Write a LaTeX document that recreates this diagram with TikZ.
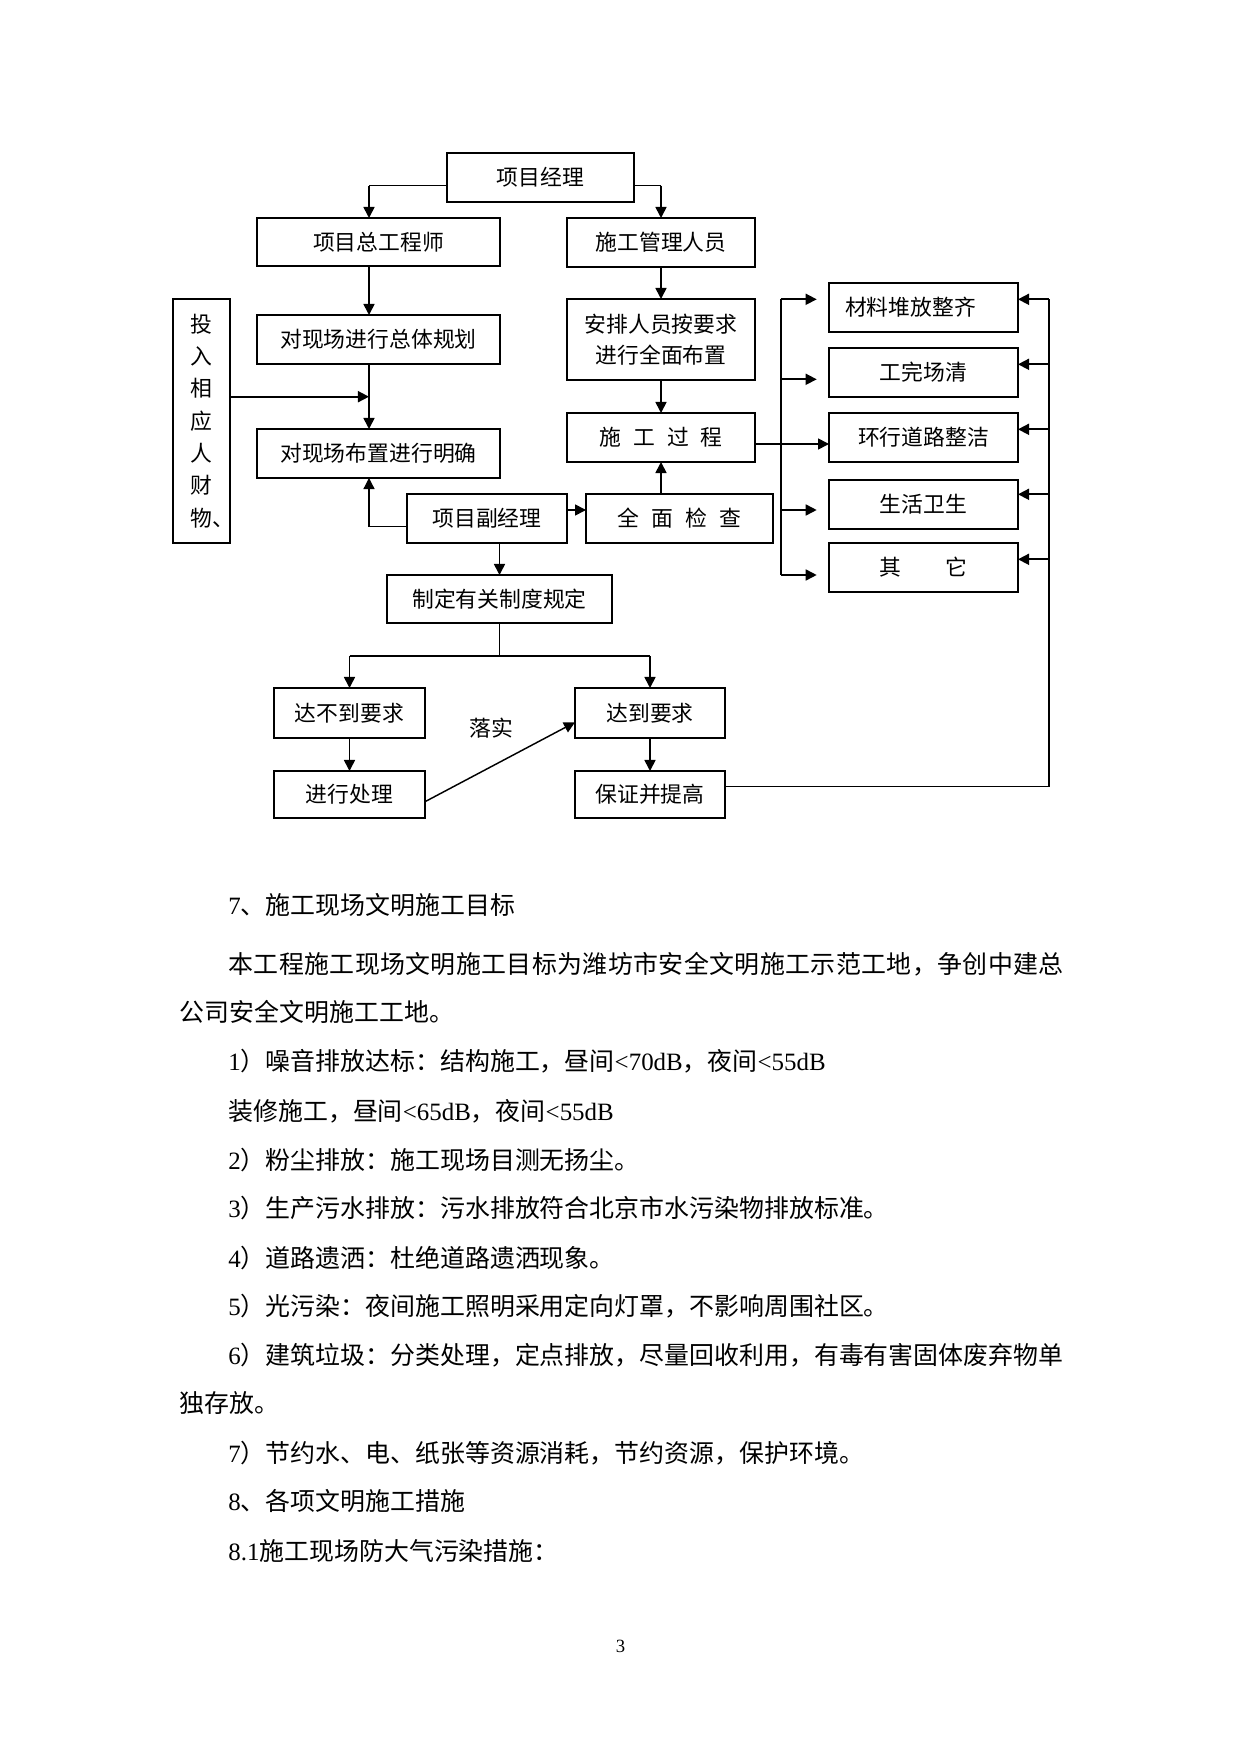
\documentclass[tikz,border=0pt]{standalone}
\usepackage{fontspec}
\setmainfont{Noto Sans CJK SC}
\newfontfamily\latinserif{Liberation Serif}
\newcommand\ltn[1]{{\latinserif #1}}
\usetikzlibrary{arrows.meta}
\newlength\px
\setlength\px{0.016922cm}
\begin{document}
\begin{tikzpicture}[x=0.016922cm,y=-0.016922cm,
  box/.style={draw,line width=0.9pt,inner sep=0pt,outer sep=0pt,align=center,
    font=\fontsize{10.5pt}{15pt}\selectfont},
  ar/.style={-{Triangle[length=5.3pt,width=5.3pt]},line width=0.8pt},
  thinl/.style={line width=0.5pt},
  body/.style={anchor=west,inner sep=0pt,font=\fontsize{12pt}{14pt}\selectfont}]
\useasboundingbox (0,0) rectangle (1241,1754);

% ---- boxes ----
\node[box,minimum width=187*\px,minimum height=49*\px] (pm) at (540.5,177.5) {项目经理};
\node[box,minimum width=243*\px,minimum height=48*\px] (ce) at (378.5,242) {项目总工程师};
\node[box,minimum width=188*\px,minimum height=49*\px] (cm) at (661,242.5) {施工管理人员};
\node[box,minimum width=243*\px,minimum height=49*\px] (plan) at (378.5,339.5) {对现场进行总体规划};
\node[box,line width=0.6pt,minimum width=188*\px,minimum height=81*\px,
  font=\fontsize{10.5pt}{15.1pt}\selectfont] (arr) at (661,339.5) {安排人员按要求\\进行全面布置};
\node[box,minimum width=57*\px,minimum height=244*\px,
  font=\fontsize{10.5pt}{15.55pt}\selectfont] (inp) at (201.5,421)
  {投\\入\\相\\应\\人\\财\\\makebox[1em][l]{物、}};
\node[box,minimum width=243*\px,minimum height=49*\px] (clar) at (378.5,453.5) {对现场布置进行明确};
\node[box,minimum width=188*\px,minimum height=49*\px] (proc) at (661,437.5)
  {施\hspace{0.55em}工\hspace{0.55em}过\hspace{0.55em}程};
\node[box,minimum width=160*\px,minimum height=49*\px] (dpm) at (487,518.5) {项目副经理};
\node[box,minimum width=187*\px,minimum height=49*\px] (chk) at (679.5,518.5)
  {全\hspace{0.55em}面\hspace{0.55em}检\hspace{0.55em}查};
\node[box,minimum width=225*\px,minimum height=48*\px] (rule) at (499.5,599) {制定有关制度规定};
\node[box,minimum width=151*\px,minimum height=50*\px] (fail) at (349.5,713) {达不到要求};
\node[box,minimum width=150*\px,minimum height=50*\px] (pass) at (650,713) {达到要求};
\node[box,minimum width=151*\px,minimum height=47*\px] (fix) at (349.5,794.5) {进行处理};
\node[box,minimum width=150*\px,minimum height=47*\px] (imp) at (650,794.5) {保证并提高};

\node[box,minimum width=189*\px,minimum height=49*\px] (r1) at (923.5,307.5) {\hspace*{-26\px}材料堆放整齐};
\node[box,minimum width=189*\px,minimum height=49*\px] (r2) at (923.5,372.5) {工完场清};
\node[box,minimum width=189*\px,minimum height=49*\px] (r3) at (923.5,437.5) {环行道路整洁};
\node[box,minimum width=189*\px,minimum height=49*\px] (r4) at (923.5,504.5) {生活卫生};
\node[box,minimum width=189*\px,minimum height=49*\px] (r5) at (923.5,567.5) {其\hspace{2em}它};

\node[font=\fontsize{10.5pt}{12pt}\selectfont,inner sep=0pt] (lbl) at (491.7,728.3) {落实};

% ---- coordinates ----
\coordinate (L1) at (369,185.7);
\coordinate (L3) at (661,185.7);
\coordinate (J1) at (369,396.7);
\coordinate (J2) at (369,526.7);
\coordinate (J3) at (575,510);
\coordinate (S) at (499.5,656);
\coordinate (SL) at (349.5,656);
\coordinate (SR) at (650,656);
\coordinate (D1) at (425,801.7);
\coordinate (D2) at (575,722.3);
\coordinate (B1) at (780.7,299.3);
\coordinate (B2) at (780.7,379.3);
\coordinate (B3) at (780.7,444);
\coordinate (B4) at (780.7,510);
\coordinate (B5) at (780.7,575);
\coordinate (T1) at (816.7,299.3);
\coordinate (T2) at (816.7,379.3);
\coordinate (T4) at (816.7,510);
\coordinate (T5) at (816.7,575);
\coordinate (R1) at (1049.3,299.3);
\coordinate (R2) at (1049.3,364.3);
\coordinate (R3) at (1049.3,429.3);
\coordinate (R4) at (1049.3,494.3);
\coordinate (R5) at (1049.3,559.3);
\coordinate (Rb) at (1049.3,786.7);

% ---- connectors ----
\draw[thinl] (pm.west |- L1) -- (L1);
\draw[ar] (L1) -- (ce.north -| L1);
\draw[thinl] (pm.east |- L3) -- (L3);
\draw[ar] (L3) -- (cm.north -| L3);
\draw[ar] (ce.south -| L1) -- (plan.north -| L1);
\draw[ar] (plan.south -| L1) -- (clar.north -| L1);
\draw[ar] (inp.east |- J1) -- (J1);
\draw[ar,line width=0.6pt] (dpm.west |- J2) -- (J2) -- (clar.south -| J2);
\draw[ar] (cm.south) -- (arr.north);
\draw[ar] (arr.south) -- (proc.north);
\draw[ar] (proc.south |- chk.north) -- (proc.south);
\draw[ar] (dpm.east |- J3) -- (chk.west |- J3);
\draw[ar] (rule.north |- dpm.south) -- (rule.north);
\draw[line width=0.8pt] (rule.south) -- (S);
\draw[thinl] (SL) -- (SR);
\draw[ar] (SL) -- (fail.north);
\draw[ar] (SR) -- (pass.north);
\draw[ar] (fail.south) -- (fix.north);
\draw[ar] (pass.south) -- (imp.north);
\draw[ar,line width=0.7pt] (fix.east |- D1) -- (pass.west |- D2);

\draw[line width=0.9pt] (B1) -- (B5);
\draw[ar] (B1) -- (T1);
\draw[ar] (B2) -- (T2);
\draw[ar] (proc.east |- B3) -- (r3.west |- B3);
\draw[ar] (B4) -- (T4);
\draw[ar] (B5) -- (T5);

\draw[line width=0.9pt] (R1) -- (Rb);
\draw[thinl] (imp.east |- Rb) -- (Rb);
\draw[ar] (R1) -- (r1.east |- R1);
\draw[ar] (R2) -- (r2.east |- R2);
\draw[ar] (R3) -- (r3.east |- R3);
\draw[ar] (R4) -- (r4.east |- R4);
\draw[ar] (R5) -- (r5.east |- R5);

% ---- body text ----
\node[body] (t1) at (228,905.5) {\ltn{7}、施工现场文明施工目标};
\node[body] (t2) at (228,963.9) {\addfontfeature{LetterSpace=1.6}本工程施工现场文明施工目标为潍坊市安全文明施工示范工地，争创中建总};
\node[body] (t3) at (179.5,1012) {公司安全文明施工工地。};
\node[body] (t4) at (228,1061.5) {\ltn{1}）噪音排放达标：结构施工，昼间\ltn{<70dB}，夜间\ltn{<55dB}};
\node[body] (t5) at (228,1111) {装修施工，昼间\ltn{<65dB}，夜间\ltn{<55dB}};
\node[body] (t6) at (228,1160) {\ltn{2}）粉尘排放：施工现场目测无扬尘。};
\node[body] (t7) at (228,1208.5) {\ltn{3}）生产污水排放：污水排放符合北京市水污染物排放标准。};
\node[body] (t8) at (228,1258) {\ltn{4}）道路遗洒：杜绝道路遗洒现象。};
\node[body] (t9) at (228,1306) {\ltn{5}）光污染：夜间施工照明采用定向灯罩，不影响周围社区。};
\node[body] (t10) at (228,1355.5) {\ltn{6}）建筑垃圾：分类处理，定点排放，尽量回收利用，有毒有害固体废弃物单};
\node[body] (t11) at (179.5,1402.6) {独存放。};
\node[body] (t12) at (228,1453) {\ltn{7}）节约水、电、纸张等资源消耗，节约资源，保护环境。};
\node[body] (t13) at (228,1501.4) {\ltn{8}、各项文明施工措施};
\node[body] (t14) at (228,1550.7) {\ltn{8.1}施工现场防大气污染措施：};
\node[inner sep=0pt,font=\latinserif\fontsize{9pt}{10pt}\selectfont] (pg) at (620.5,1646) {3};
\end{tikzpicture}
\end{document}
